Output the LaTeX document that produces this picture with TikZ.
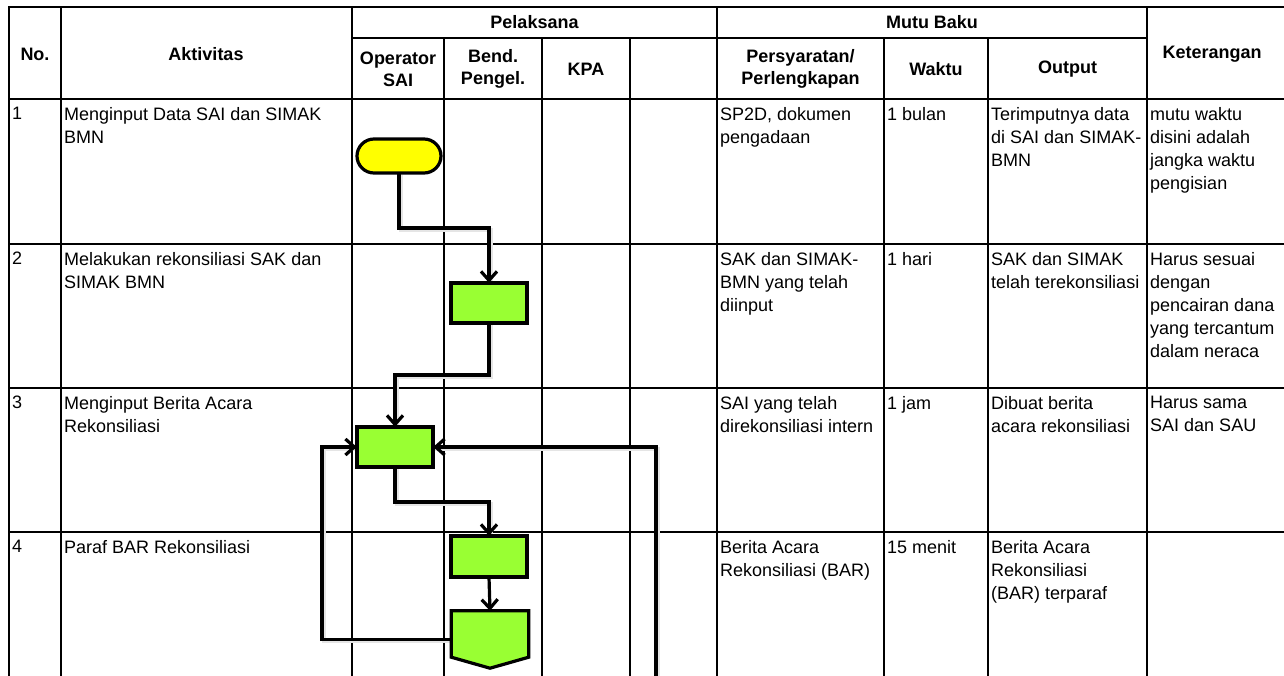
\documentclass[tikz,border=0pt]{standalone}
\usepackage{fontspec}
\setmainfont{Liberation Sans}
\usetikzlibrary{arrows.meta,shapes.misc,calc}
\definecolor{flowgreen}{RGB}{153,255,51}
\definecolor{flowyellow}{RGB}{255,255,0}
\begin{document}
\begin{tikzpicture}[x=1pt,y=-1pt,
  grid/.style={line width=1.7pt, line cap=rect},
  hdr/.style={font=\fontsize{18}{22}\selectfont\bfseries, align=center, inner sep=0},
  cell/.style={font=\fontsize{18}{23}\selectfont, align=left, anchor=north west, inner sep=0},
  proc/.style={draw, line width=3.2pt, fill=flowgreen, minimum width=76pt, minimum height=40pt, inner sep=0},
  term/.style={draw, rounded rectangle, line width=3.2pt, fill=flowyellow, minimum width=84pt, minimum height=34pt, inner sep=0},
  flow/.style={line width=3.2pt, -{Straight Barb[length=9pt,width=16pt]}},
  shadowline/.style={line width=4pt, draw=black!10, transform canvas={shift={(1.6,1.6)}}},
  link/.style={line width=3.2pt, line join=miter}
]
\useasboundingbox (0,0) rectangle (1284,675);
\fill[white] (0,0) rectangle (1284,675);

% table grid
\draw[grid] (9,7) -- (1290,7);
\draw[grid] (352,38) -- (1147,38);
\draw[grid] (9,99) -- (1290,99);
\foreach \y in {244,388,532} \draw[grid] (9,\y) -- (1290,\y);
\foreach \x in {9,61,352,717,1147} \draw[grid] (\x,7) -- (\x,680);
\foreach \x in {444,542,630,884,988} \draw[grid] (\x,38) -- (\x,680);

% headers
\node[hdr] (hNo) at (35,54) {No.};
\node[hdr] (hAkt) at (206,54) {Aktivitas};
\node[hdr] (hPel) at (534.5,22.5) {Pelaksana};
\node[hdr] (hMutu) at (932,22.5) {Mutu Baku};
\node[hdr] (hOp) at (398,69) {Operator\\SAI};
\node[hdr] (hBend) at (493,69) {Bend.\\Pengel.};
\node[hdr] (hKPA) at (586,69) {KPA};
\node[hdr] (hPers) at (800.5,69) {Persyaratan/\\Perlengkapan};
\node[hdr] (hWaktu) at (936,69) {Waktu};
\node[hdr] (hOut) at (1067.5,69) {Output};
\node[hdr] (hKet) at (1212,54) {Keterangan};

% row 1
\node[cell] (r1n) at (12,107) {1};
\node[cell] (r1a) at (64,107) {Menginput Data SAI dan SIMAK\\BMN};
\node[cell] (r1p) at (720,107) {SP2D, dokumen\\pengadaan};
\node[cell] (r1w) at (887,107) {1 bulan};
\node[cell] (r1o) at (991,107) {Terimputnya data\\di SAI dan SIMAK-\\BMN};
\node[cell] (r1k) at (1150,107) {mutu waktu\\disini adalah\\jangka waktu\\pengisian};
% row 2
\node[cell] (r2n) at (12,252) {2};
\node[cell] (r2a) at (64,252) {Melakukan rekonsiliasi SAK dan\\SIMAK BMN};
\node[cell] (r2p) at (720,252) {SAK dan SIMAK-\\BMN yang telah\\diinput};
\node[cell] (r2w) at (887,252) {1 hari};
\node[cell] (r2o) at (991,252) {SAK dan SIMAK\\telah terekonsiliasi};
\node[cell] (r2k) at (1150,252) {Harus sesuai\\dengan\\pencairan dana\\yang tercantum\\dalam neraca};
% row 3
\node[cell] (r3n) at (12,396) {3};
\node[cell] (r3a) at (64,396) {Menginput Berita Acara\\Rekonsiliasi};
\node[cell] (r3p) at (720,396) {SAI yang telah\\direkonsiliasi intern};
\node[cell] (r3w) at (887,396) {1 jam};
\node[cell] (r3o) at (991,396) {Dibuat berita\\acara rekonsiliasi};
\node[cell] (r3k) at (1150,396) {Harus sama\\SAI dan SAU};
% row 4
\node[cell] (r4n) at (12,540) {4};
\node[cell] (r4a) at (64,540) {Paraf BAR Rekonsiliasi};
\node[cell] (r4p) at (720,540) {Berita Acara\\Rekonsiliasi (BAR)};
\node[cell] (r4w) at (887,540) {15 menit};
\node[cell] (r4o) at (991,540) {Berita Acara\\Rekonsiliasi\\(BAR) terparaf};

% flow shapes (positions)
\node[inner sep=0, minimum width=84pt, minimum height=34pt] (t1) at (399,156) {};
\node[inner sep=0, minimum width=76pt, minimum height=40pt] (b2) at (489,303) {};
\node[inner sep=0, minimum width=76pt, minimum height=40pt] (b3) at (395,447) {};
\node[inner sep=0, minimum width=76pt, minimum height=41pt] (b4) at (489,556.5) {};
\node[inner sep=0, minimum width=77pt, minimum height=57pt] (p5) at (490,639.5) {};

\coordinate (lp) at (322,0);
\coordinate (off) at (656,690);

% soft shadows
\draw[shadowline] (t1.south) -- (t1.south |- 0,228) -| (b2.north);
\draw[shadowline] (b2.south) -- (b2.south |- 0,375) -| (b3.north);
\draw[shadowline] (b3.south) -- (b3.south |- 0,502) -| (b4.north);
\draw[shadowline] (p5.west) -- (p5.west -| lp) |- (b3.west);
\draw[shadowline] (off) |- (b3.east);

% shapes
\node[term] (t1s) at (t1) {};
\node[proc] (b2s) at (b2) {};
\node[proc] (b3s) at (b3) {};
\node[proc, minimum height=41pt] (b4s) at (b4) {};
\draw[link, fill=flowgreen] (p5.north west) -- (p5.north east) -- ($(p5.south east)+(0,-11)$) -- (p5.south) -- ($(p5.south west)+(0,-11)$) -- cycle;

% connectors
\draw[flow] (t1.south) -- (t1.south |- 0,228) -| (b2.north);
\draw[flow] (b2.south) -- (b2.south |- 0,375) -| (b3.north);
\draw[flow] (b3.south) -- (b3.south |- 0,502) -| (b4.north);
\draw[flow] (b4.south) -- (p5.north);
\draw[flow] (p5.west) -- (p5.west -| lp) |- (b3.west);
\draw[flow] (off) |- (b3.east);
\end{tikzpicture}
\end{document}
